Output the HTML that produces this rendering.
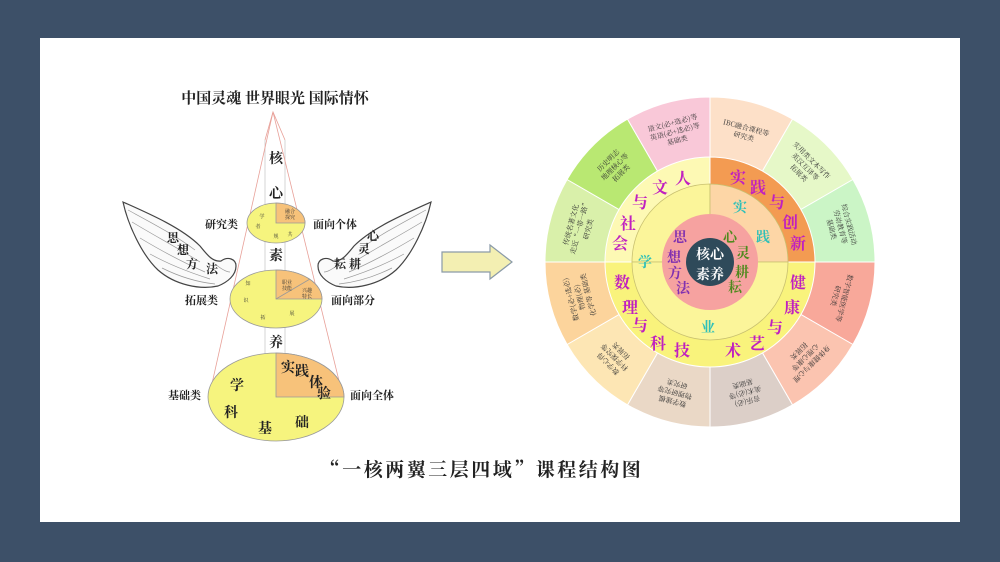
<!DOCTYPE html>
<html><head><meta charset="utf-8"><style>
html,body{margin:0;padding:0;background:#3d5068;}
body{width:1000px;height:562px;overflow:hidden;position:relative;font-family:"Liberation Serif","Noto Serif CJK SC",serif;}
</style></head><body>
<svg width="1000" height="562" viewBox="0 0 1000 562" xmlns="http://www.w3.org/2000/svg" style="position:absolute;left:0;top:0">
<rect x="0" y="0" width="1000" height="562" fill="#3d5068"/>
<rect x="40" y="38" width="920" height="484" fill="#ffffff"/>
<g font-family="Noto Serif CJK SC, serif" font-weight="bold" fill="#222">
<text x="275" y="103" font-size="15" text-anchor="middle">中国灵魂 世界眼光 国际情怀</text>
</g>
<!-- cone -->
<g stroke="#e8a098" stroke-width="0.8" fill="none">
<polyline points="265,140 273,112 285,140"/>
<line x1="265" y1="140" x2="265" y2="420" stroke="#ccc"/>
<line x1="285" y1="140" x2="285" y2="420" stroke="#ccc"/>
<line x1="273" y1="112" x2="209" y2="397"/>
<line x1="273" y1="112" x2="343" y2="397"/>
</g>
<!-- ellipses -->
<g stroke="#999" stroke-width="0.8">
<ellipse cx="276" cy="223" rx="29" ry="20" fill="#f6f47e"/>
<path d="M276,223 L276,203 A29,20 0 0 1 305,223 Z" fill="#f7c27a"/>
<ellipse cx="276" cy="299" rx="46" ry="29" fill="#f6f47e"/>
<path d="M276,299 L276,270 A46,29 0 0 1 322,299 Z" fill="#f7c27a"/>
<line x1="276" y1="299" x2="310" y2="279"/>
<ellipse cx="276" cy="397" rx="68" ry="44" fill="#f6f47e"/>
<path d="M276,397 L276,353 A68,44 0 0 1 344,397 Z" fill="#f7c27a"/>
</g>
<g font-family="Noto Serif CJK SC, serif" font-weight="bold" fill="#222" font-size="14" text-anchor="middle">
<text x="276" y="163">核</text><text x="276" y="198">心</text><text x="276" y="260">素</text><text x="276" y="347">养</text>
<text x="288" y="372">实</text><text x="302" y="376">践</text><text x="316" y="387">体</text><text x="324" y="398">验</text>
<text x="237" y="390">学</text><text x="231" y="417">科</text><text x="265" y="433">基</text><text x="302" y="427">础</text>
</g>
<g font-family="Noto Serif CJK SC, serif" fill="#333" font-size="5" text-anchor="middle">
<text x="290" y="213">融合</text><text x="290" y="219">探究</text>
<text x="262" y="218">学</text><text x="258" y="228">者</text><text x="276" y="238">规</text><text x="290" y="236">共</text>
<text x="287" y="284">职业</text><text x="287" y="290">技能</text><text x="307" y="292">兴趣</text><text x="307" y="298">特长</text>
<text x="248" y="285">知</text><text x="246" y="302">识</text><text x="263" y="319">拓</text><text x="292" y="315">展</text>
</g>
<!-- wings -->
<g id="wing" fill="#fafafa" stroke="#444" stroke-width="1.2">
<path d="M123,202 C150,214 182,228 200,246 C208,256 213,262 221,261 C228,256 236,259 236,266 C236,275 228,282 218,286 C200,290 175,285 158,270 C142,255 128,225 123,202 Z"/>
<g stroke="#999" stroke-width="0.7" fill="none">
<path d="M128,210 C150,222 175,235 195,250"/>
<path d="M132,222 C155,236 178,248 200,262"/>
<path d="M140,238 C160,250 182,262 205,272"/>
<path d="M150,254 C168,264 188,272 210,279"/>
<path d="M162,268 C178,276 196,282 215,284"/>
<path d="M215,264 C220,268 226,272 230,272"/>
</g>
</g>
<use href="#wing" transform="translate(554,0) scale(-1,1)"/>
<g font-family="Noto Serif CJK SC, serif" font-weight="bold" fill="#222" font-size="11">
<text x="205" y="228">研究类</text><text x="313" y="228">面向个体</text>
<text x="185" y="304">拓展类</text><text x="331" y="304">面向部分</text>
<text x="168" y="399">基础类</text><text x="350" y="399">面向全体</text>
</g>
<g font-family="Noto Serif CJK SC, serif" font-weight="bold" fill="#222" font-size="12" text-anchor="middle">
<text x="173" y="242">思</text><text x="183" y="254">想</text><text x="192" y="268">方</text><text x="212" y="273">法</text>
<text x="373" y="240">心</text><text x="364" y="253">灵</text><text x="355" y="268">耕</text><text x="340" y="268">耘</text>
</g>
<!-- arrow -->
<path d="M442,252 L490,252 L490,245 L512,262 L490,279 L490,272 L442,272 Z" fill="#f3efb2" stroke="#8a9aa8" stroke-width="1.2"/>
<!-- circle -->
<g stroke="#fff" stroke-width="1">
<path d="M710,262 L710,97 A165,165 0 0 1 792.5,119.1 Z" fill="#fde0c8"/>
<path d="M710,262 L792.5,119.1 A165,165 0 0 1 852.9,179.5 Z" fill="#e6f8c8"/>
<path d="M710,262 L852.9,179.5 A165,165 0 0 1 875,262 Z" fill="#cbf5c6"/>
<path d="M710,262 L875,262 A165,165 0 0 1 852.9,344.5 Z" fill="#f8a89a"/>
<path d="M710,262 L852.9,344.5 A165,165 0 0 1 792.5,404.9 Z" fill="#fbc4b0"/>
<path d="M710,262 L792.5,404.9 A165,165 0 0 1 710,427 Z" fill="#dccfc8"/>
<path d="M710,262 L710,427 A165,165 0 0 1 627.5,404.9 Z" fill="#ead8c6"/>
<path d="M710,262 L627.5,404.9 A165,165 0 0 1 567.1,344.5 Z" fill="#fde6b4"/>
<path d="M710,262 L567.1,344.5 A165,165 0 0 1 545,262 Z" fill="#fcd49c"/>
<path d="M710,262 L545,262 A165,165 0 0 1 567.1,179.5 Z" fill="#d9f0aa"/>
<path d="M710,262 L567.1,179.5 A165,165 0 0 1 627.5,119.1 Z" fill="#b9e872"/>
<path d="M710,262 L627.5,119.1 A165,165 0 0 1 710,97 Z" fill="#f9c8d8"/>
</g>
<g stroke="#fff" stroke-width="1">
<path d="M710,262 L605,262 A105,105 0 0 1 710,157 Z" fill="#fdf9b4"/>
<path d="M710,262 L710,157 A105,105 0 0 1 815,262 Z" fill="#f39b52"/>
<path d="M710,262 L815,262 A105,105 0 0 1 605,262 Z" fill="#f9f37c"/>
</g>
<g stroke="#c8c070" stroke-width="0.8">
<path d="M710,262 L632,262 A78,78 0 0 1 710,184 Z" fill="#fbf59a"/>
<path d="M710,262 L710,184 A78,78 0 0 1 788,262 Z" fill="#fdd6a6"/>
<path d="M710,262 L788,262 A78,78 0 0 1 632,262 Z" fill="#fbf59a"/>
</g>
<circle cx="710" cy="262" r="48" fill="#f6a2a0"/>
<circle cx="710" cy="262" r="24" fill="#2f4a5a"/>
<g font-family="Noto Serif CJK SC, serif" font-weight="bold" text-anchor="middle">
<text x="710" y="259" font-size="14" fill="#fff">核心</text>
<text x="710" y="279" font-size="14" fill="#fff">素养</text>
<g fill="#c020c0" font-size="16">
<text x="683" y="184">人</text><text x="660" y="193">文</text><text x="640" y="208">与</text><text x="628" y="229">社</text><text x="620" y="249">会</text>
<text x="738" y="183">实</text><text x="758" y="193">践</text><text x="777" y="208">与</text><text x="790" y="228">创</text><text x="798" y="249">新</text>
<text x="622" y="288">数</text><text x="630" y="313">理</text><text x="640" y="331">与</text><text x="658" y="349">科</text><text x="682" y="356">技</text>
<text x="798" y="288">健</text><text x="792" y="313">康</text><text x="775" y="333">与</text><text x="757" y="349">艺</text><text x="733" y="356">术</text>
</g>
<g fill="#2fc0b8" font-size="14">
<text x="740" y="212">实</text><text x="763" y="242">践</text><text x="645" y="267">学</text><text x="708" y="332">业</text>
</g>
<g fill="#8030b0" font-size="14">
<text x="680" y="242">思</text><text x="674" y="262">想</text><text x="675" y="278">方</text><text x="683" y="293">法</text>
</g>
<g fill="#4f8a1e" font-size="14">
<text x="730" y="242">心</text><text x="743" y="258">灵</text><text x="742" y="277">耕</text><text x="735" y="292">耘</text>
</g>
</g>
<g font-family="Noto Serif CJK SC, serif" font-size="7" fill="#333" text-anchor="middle">
<g transform="translate(675,132) rotate(-15)"><text y="-7">语文(必+选必)等</text><text y="2">英语(必+选必)等</text><text y="11">基础类</text></g>
<g transform="translate(745,132) rotate(15)"><text y="-2">IBC融合课程等</text><text y="7">研究类</text></g>
<g transform="translate(805,167) rotate(45)"><text y="-7">实用类文本写作</text><text y="2">英汉互译等</text><text y="11">拓展类</text></g>
<g transform="translate(840,227) rotate(75)"><text y="-7">综合实践活动</text><text y="2">劳动教育等</text><text y="11">基础类</text></g>
<g transform="translate(840,297) rotate(105)"><text y="-2">数字智能医学等</text><text y="7">研究类</text></g>
<g transform="translate(805,357) rotate(135)"><text y="-7">身体健康与心理</text><text y="2">心理心康等</text><text y="11">拓展类</text></g>
<g transform="translate(745,392) rotate(165)"><text y="-7">音乐(必)</text><text y="2">美术(必)等</text><text y="11">基础类</text></g>
<g transform="translate(675,392) rotate(195)"><text y="-7">数学建模</text><text y="2">物理研究等</text><text y="11">研究类</text></g>
<g transform="translate(615,357) rotate(225)"><text y="-7">数学心得</text><text y="2">科学探究等</text><text y="11">拓展类</text></g>
<g transform="translate(580,297) rotate(255)"><text y="-7">数学(必+选必)</text><text y="2">物理(必)</text><text y="11">化学等 基础类</text></g>
<g transform="translate(580,227) rotate(285)"><text y="-7">传统名著文化</text><text y="2">走近“一带一路”</text><text y="11">研究类</text></g>
<g transform="translate(615,167) rotate(315)"><text y="-7">历史明志</text><text y="2">地理核心等</text><text y="11">拓展类</text></g>
</g>
<text x="482" y="476" font-family="Noto Serif CJK SC, serif" font-weight="bold" font-size="19" letter-spacing="2.5" fill="#222" text-anchor="middle">“一核两翼三层四域”课程结构图</text>
</svg>
</body></html>
